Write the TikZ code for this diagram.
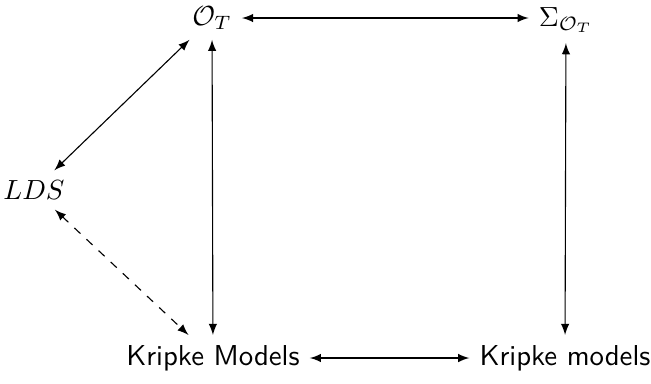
\documentclass[tikz,border=0pt]{standalone}
\usepackage{tikz}
\usetikzlibrary{positioning, calc}
\usepackage{amsmath}

\begin{document}
\begin{tikzpicture}[x=0.0127cm, y=-0.0127cm,
	every node/.style={font=\sffamily\fontsize{10.4}{12}\selectfont, inner sep=3.5pt},
	link/.style={latex-latex, thin}]
					\useasboundingbox (0,0) rectangle (651,383);
					\node (ot) at (212,18) {$\mathcal{O}_T$};
					\node (sig) at (566,20) {$\Sigma_{\mathcal{O}_T}$};
					\node (lds) at (34,190) {$LDS$};
					\node (km) at (213,358) {Kripke Models};
					\node (kmr) at (565,358) {Kripke models};
					\draw[link] (ot.east) -- (ot.east -| sig.west);
					\draw[link] (ot) -- (km);
					\draw[link] (sig) -- (kmr);
					\draw[link] (km) -- (kmr);
					\draw[link] (ot) -- (lds);
					\draw[link, dashed] (lds) -- (km);
				\end{tikzpicture}
\end{document}
